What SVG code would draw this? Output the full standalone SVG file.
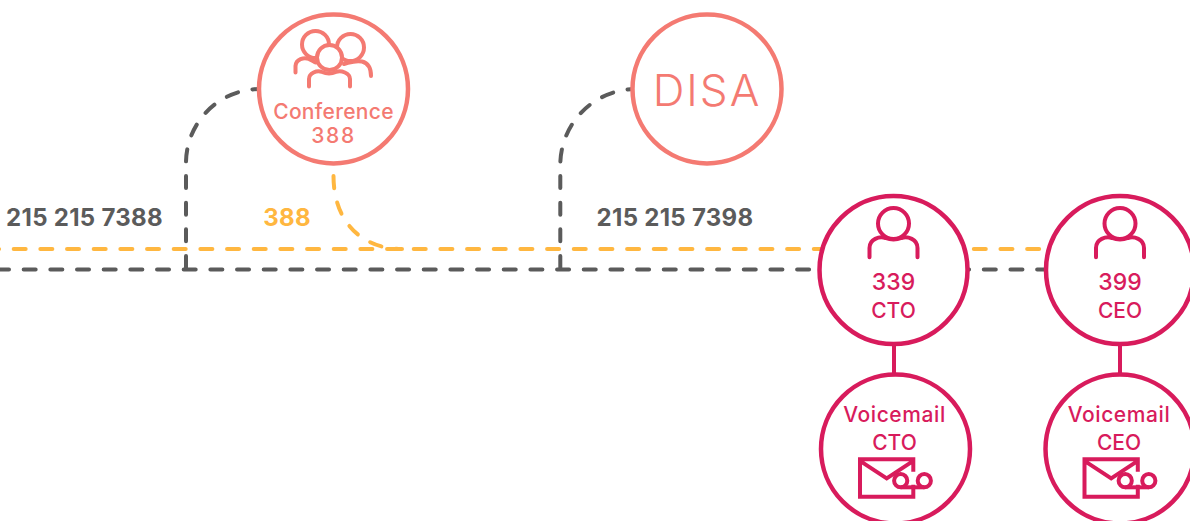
<svg xmlns="http://www.w3.org/2000/svg" width="1190" height="521" viewBox="0 0 1190 521">
<style>
text{font-family:Inter,"Noto Sans","Liberation Sans",sans-serif;text-anchor:middle}
.dash{fill:none;stroke-width:4;stroke-linecap:round;stroke-dasharray:12 14.67}
.dk{stroke:#5b5b5b}.or{stroke:#ffb740}
.s{fill:#fff;stroke:#f47a72;stroke-width:4.500}
.p{fill:#fff;stroke:#d81b5c;stroke-width:4.500}
.si{fill:none;stroke:#f47a72;stroke-width:4;stroke-linecap:round}
.pi{fill:none;stroke:#d81b5c;stroke-width:4;stroke-linecap:round}
.st{fill:#f47a72;font-size:21px;font-weight:500;letter-spacing:.3px}
.sn{letter-spacing:1.6px}
.pt{fill:#d81b5c;font-size:21px;font-weight:500}
.num{font-size:23px}
.vm{letter-spacing:.6px}
.lb{font-size:24px;font-weight:700;letter-spacing:.3px}
</style>
<defs>
<g id="person">
<circle cx="0" cy="-46.5" r="15.5"/>
<path d="M-24 -12.7V-22C-24 -31 -14 -34 -8 -32C-3 -30 3 -30 8 -32C14 -34 24 -31 24 -22V-12.7"/>
</g>
<g id="vm">
<path d="M0 -17.6V-30H-53.3V7.4H0V-4.5M-53.3 -28.5L-26.6 -11L0 -28.5" stroke-linecap="butt"/>
<circle cx="-12.6" cy="-8.6" r="6.6"/><circle cx="11" cy="-8.6" r="6.6"/>
<path d="M-12.6 -2H11" stroke-linecap="butt"/>
</g>
</defs>
<g id="connectors">
<path class="dash or" d="M-13 249H1190"/>
<path class="dash dk" d="M-3 269.5H1190"/>
<path class="dash dk" d="M186 268V163A74 74 0 0 1 260 89"/>
<path class="dash dk" d="M560.3 268V165A76 76 0 0 1 634 89"/>
<path class="dash or" d="M333.5 176C333.5 222 362 249 402 249"/>
<path d="M894 345V374M1120 345V374" fill="none" stroke="#d81b5c" stroke-width="4"/>
</g>
<g id="label-7388"><text class="lb" x="84.500" y="225.500" fill="#5b5b5b">215 215 7388</text></g>
<g id="label-388"><text class="lb" x="287" y="225.500" fill="#ffb740">388</text></g>
<g id="label-7398"><text class="lb" x="675" y="225.500" fill="#5b5b5b">215 215 7398</text></g>
<g id="conference">
<circle class="s" cx="333.500" cy="89" r="74.500"/>
<g class="si">
<circle cx="315.500" cy="44.500" r="13.500"/><circle cx="350.500" cy="47.500" r="13.500"/>
<circle cx="329.500" cy="57.500" r="12.500" fill="#fff"/>
<path d="M295.500 72.500V66C296 59 304 57 309 59C312 60 314 62 316 62.500M344 64C350 62.500 355 60 362 61.500C368 63 371 68 371 76"/>
<path d="M309 86.500V79C309 73 317 70 322 72C327 74 331 74 336 72C341 70 350 73 350 79V86.500"/>
</g>
<text class="st" x="333.500" y="118.500">Conference</text>
<text class="st sn" x="333.500" y="143">388</text>
</g>
<g id="disa">
<circle class="s" cx="707" cy="89" r="74.500"/>
<text x="707" y="105.500" fill="#f47a72" font-size="44" style="font-weight:300;letter-spacing:2px">DISA</text>
</g>
<g id="cto">
<circle class="p" cx="893.500" cy="270" r="74"/>
<use href="#person" x="893.500" y="270" class="pi"/>
<text class="pt num" x="893.500" y="290">339</text>
<text class="pt" x="893.500" y="318">CTO</text>
</g>
<g id="ceo">
<circle class="p" cx="1120" cy="270" r="74"/>
<use href="#person" x="1120" y="270" class="pi"/>
<text class="pt num" x="1120" y="290">399</text>
<text class="pt" x="1120" y="318">CEO</text>
</g>
<g id="voicemail-cto">
<circle class="p" cx="895.500" cy="449" r="74.500"/>
<text class="pt vm" x="894.500" y="422">Voicemail</text>
<text class="pt" x="894.500" y="450">CTO</text>
<use href="#vm" x="913.300" y="489.300" class="pi"/>
</g>
<g id="voicemail-ceo">
<circle class="p" cx="1120" cy="449" r="74.500"/>
<text class="pt vm" x="1119" y="422">Voicemail</text>
<text class="pt" x="1119" y="450">CEO</text>
<use href="#vm" x="1137.800" y="489.300" class="pi"/>
</g>
</svg>
